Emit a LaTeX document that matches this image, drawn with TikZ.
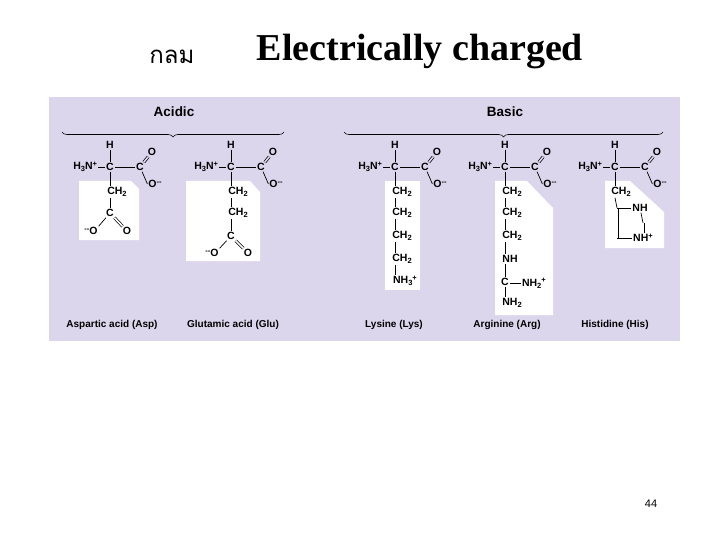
\documentclass[tikz,border=0pt]{standalone}
\usepackage{fontspec}
\setmainfont{Liberation Serif}
\newfontfamily\hv{Liberation Sans}
\newfontfamily\thaifont[Script=Thai]{Loma}
\usetikzlibrary{decorations.pathreplacing}
\definecolor{lav}{HTML}{DCD6EC}
\newcommand\dn[1]{\raisebox{-0.4ex}{\fontsize{7.5}{8}\selectfont #1}}
\newcommand\up[1]{\raisebox{0.6ex}{\fontsize{7.5}{8}\selectfont #1}}
\tikzset{
 atm/.style={font=\hv\bfseries\fontsize{10.5}{12}\selectfont, inner sep=0.8pt},
 bond/.style={line width=0.7pt},
 dbl/.style={bond, double distance=1.6pt, double=lav},
 dblw/.style={bond, double distance=1.6pt, double=white},
 lbl/.style={font=\hv\bfseries\fontsize{10}{12}\selectfont},
 hd/.style={font=\hv\bfseries\fontsize{13.5}{15}\selectfont},
 brc/.style={decorate, decoration={brace, amplitude=5pt, mirror}, line width=0.6pt}
}
\newcommand\backbone[3]{%
 \begin{scope}[shift={(#2,#3)}]
 \node[atm] (#1a) at (0,0) {C};
 \node[atm] (#1h) at (0,-22) {H};
 \node[atm, anchor=east] (#1n) at (-12,0) {H\dn{3}N\up{+}};
 \node[atm] (#1c) at (30,0) {C};
 \node[atm] (#1o) at (42,-15) {O};
 \node[atm] (#1m) at (45,17) {O\up{--}};
 \draw[bond] (#1h) -- (#1a); \draw[bond] (#1n.east |- #1a) -- (#1a); \draw[bond] (#1a) -- (#1c);
 \draw[dbl] (#1c) -- (#1o); \draw[bond] (#1c) -- (#1m.west);
 \end{scope}}
\begin{document}
\begin{tikzpicture}[x=1pt,y=-1pt]
\useasboundingbox (0,0) rectangle (720,540);
\fill[white] (0,0) rectangle (720,540);
\node[font=\thaifont\fontsize{24}{28}\selectfont] (t1) at (172,57) {กลม};
\node[font=\bfseries\fontsize{38}{44}\selectfont] (t2) at (420,52) {Electrically charged};
\node[font=\hv\fontsize{11}{13}\selectfont] (pg) at (651,504) {44};
\fill[lav] (48,97) rectangle (680,341);
\draw[white, line width=1.5pt] (48,97) -- (48,341);
% white boxes
\fill[white] (79,181) -- (131,181) -- (139,189) -- (139,240) -- (79,240) -- cycle;
\fill[white] (186,181) -- (250,181) -- (260,192) -- (260,261) -- (186,261) -- cycle;
\fill[white] (385,181) rectangle (420,290);
\fill[white] (495,181) -- (527,181) -- (553,208) -- (553,315) -- (495,315) -- cycle;
\fill[white] (605,181) -- (630,181) -- (664,212) -- (664,248) -- (605,248) -- cycle;
% braces
\coordinate (ba1) at (62,132); \coordinate (ba2) at (284,132);
\coordinate (bb1) at (344,132); \coordinate (bb2) at (663,132);
\draw[brc] (ba1) -- (ba2); \draw[brc] (bb1) -- (bb2);
\node[hd] (acid) at (174,112) {Acidic};
\node[hd] (basic) at (505,112) {Basic};
% Asp
\backbone{p}{110}{167}
\node[atm] (p1) at (117,192) {CH\dn{2}};
\node[atm] (p2) at (110,213) {C};
\node[atm] (p3) at (91,231) {\up{--}O};
\node[atm] (p4) at (127,231) {O};
\draw[bond] (pa) -- (p1.north -| pa); \draw[bond] (p1.south -| pa) -- (p2);
\draw[bond] (p2) -- (p3.north east); \draw[dblw] (p2) -- (p4);
% Glu
\backbone{g}{231}{167}
\node[atm] (g1) at (238,192) {CH\dn{2}};
\node[atm] (g2) at (238,213) {CH\dn{2}};
\node[atm] (g3) at (231,236) {C};
\node[atm] (g4) at (212,253) {\up{--}O};
\node[atm] (g5) at (248,253) {O};
\draw[bond] (ga) -- (g1.north -| ga); \draw[bond] (g1.south -| ga) -- (g2.north -| ga);
\draw[bond] (g2.south -| ga) -- (g3);
\draw[bond] (g3) -- (g4.north east); \draw[dblw] (g3) -- (g5);
% Lys
\backbone{l}{395}{167}
\foreach \i/\y in {1/192,2/213,3/236,4/259}{\node[atm] (l\i) at (402,\y) {CH\dn{2}};}
\node[atm] (l5) at (405,281) {NH\dn{3}\up{+}};
\draw[bond] (la) -- (l1.north -| la);
\foreach \i/\j in {1/2,2/3,3/4,4/5}{\draw[bond] (l\i.south -| la) -- (l\j.north -| la);}
% Arg
\backbone{r}{505}{167}
\foreach \i/\y in {1/192,2/213,3/236}{\node[atm] (r\i) at (512,\y) {CH\dn{2}};}
\node[atm] (r4) at (510,259) {NH};
\node[atm] (r5) at (505,282) {C};
\node[atm, anchor=base west] (r6) at (521,286) {NH\dn{2}\up{+}};
\node[atm] (r7) at (512,303) {NH\dn{2}};
\draw[bond] (ra) -- (r1.north -| ra);
\foreach \i/\j in {1/2,2/3,3/4}{\draw[bond] (r\i.south -| ra) -- (r\j.north -| ra);}
\draw[bond] (r4.south -| ra) -- (r5); \draw[bond] (r5) -- (r7.north -| ra);
\draw[dblw] (r5) -- (r6.west |- r5);
% His
\backbone{s}{615}{167}
\node[atm] (s1) at (621,192) {CH\dn{2}};
\node[atm] (s2) at (640,208) {NH};
\node[atm] (s3) at (643,238) {NH\up{+}};
\coordinate (s4) at (617,208); \coordinate (s5) at (617,238); \coordinate (s6) at (643,223);
\draw[bond] (sa) -- (s1.north -| sa); \draw[bond] (s1.south -| sa) -- (s4);
\draw[dblw] (s4) -- (s5);
\draw[bond] (s4) -- (s2.west); \draw[bond] (s5) -- (s3.west |- s5);
\draw[bond] (s2) -- (s6); \draw[dblw] (s6) -- (s3);
% names
\node[lbl] (n1) at (112,325) {Aspartic acid (Asp)};
\node[lbl] (n2) at (233,325) {Glutamic acid (Glu)};
\node[lbl] (n3) at (394,325) {Lysine (Lys)};
\node[lbl] (n4) at (507,325) {Arginine (Arg)};
\node[lbl] (n5) at (615,325) {Histidine (His)};
\end{tikzpicture}
\end{document}
